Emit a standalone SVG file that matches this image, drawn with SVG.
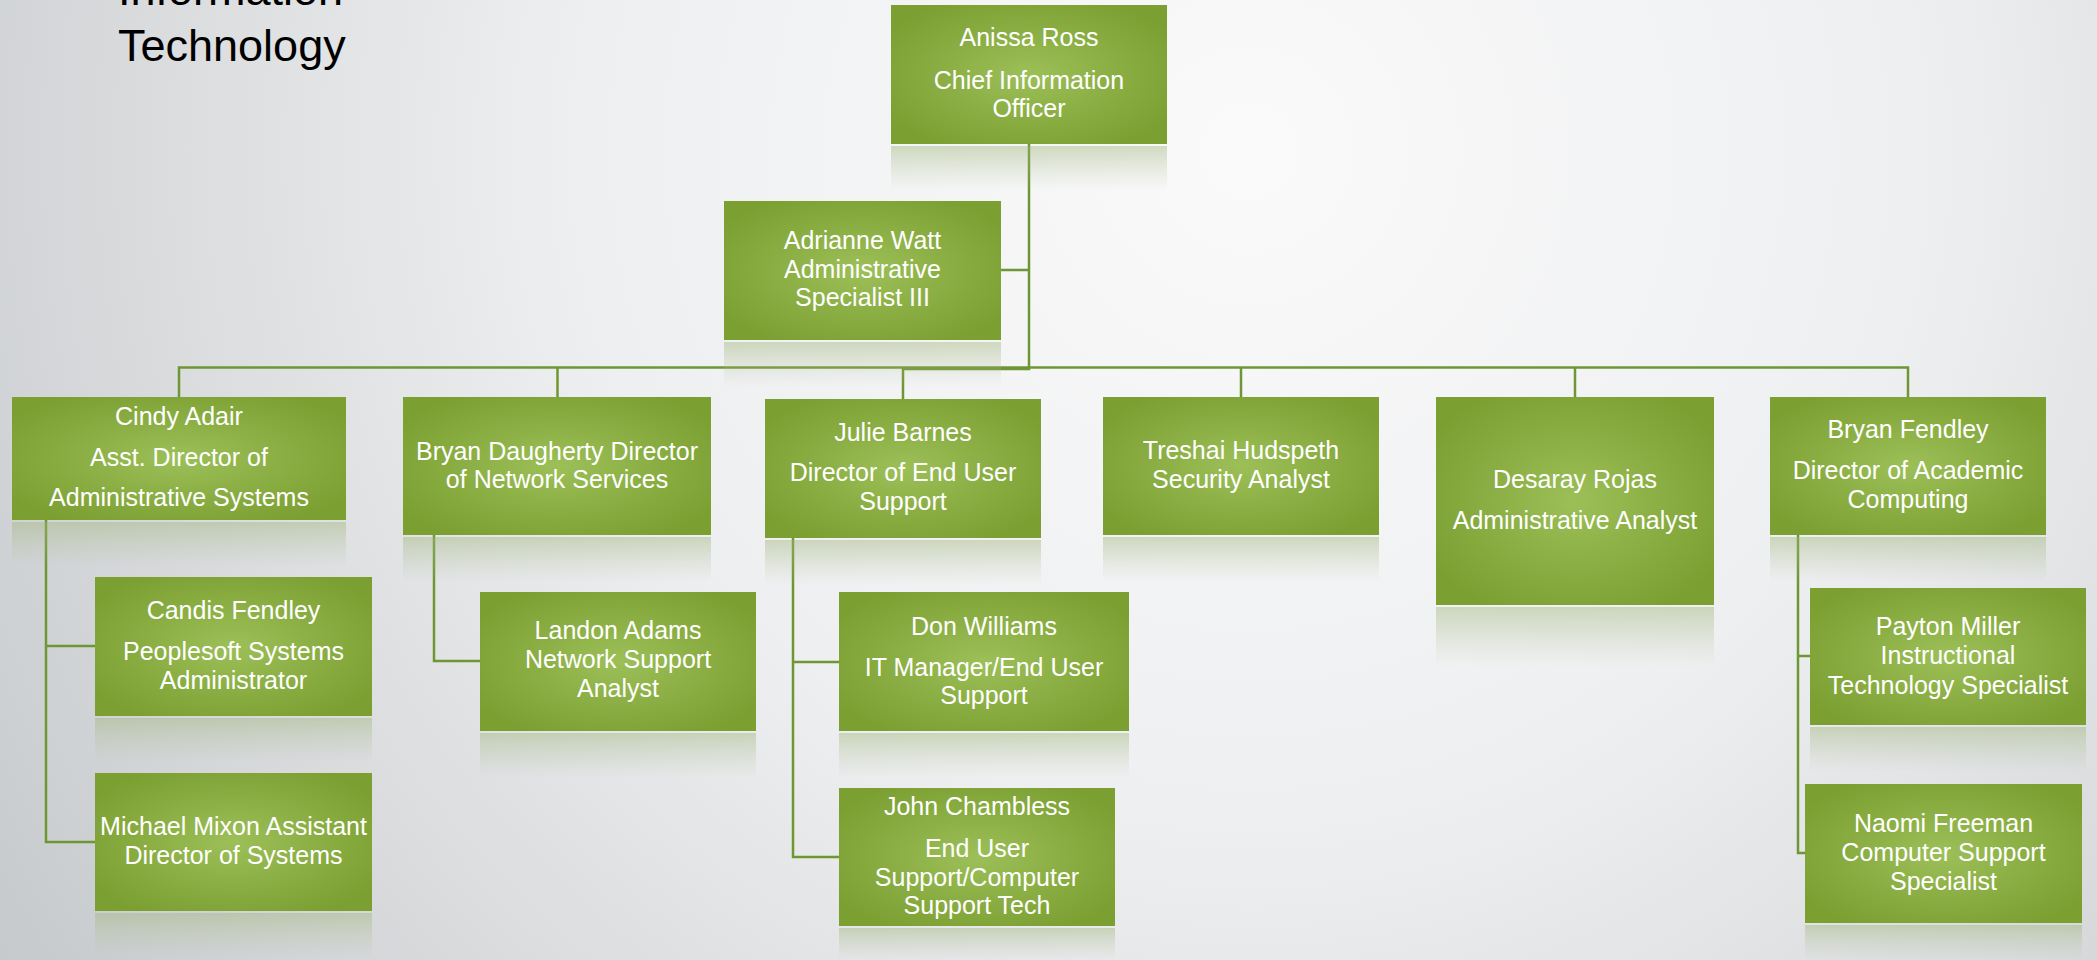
<svg xmlns="http://www.w3.org/2000/svg" width="2097" height="960" viewBox="0 0 2097 960">
<defs>
<radialGradient id="bg" gradientUnits="userSpaceOnUse" cx="1250" cy="150" r="1500">
<stop offset="0" stop-color="#fafafb"/>
<stop offset="0.45" stop-color="#eeeff0"/>
<stop offset="1" stop-color="#c6c9cc"/>
</radialGradient>
<radialGradient id="box" cx="0.5" cy="0.5" r="0.6">
<stop offset="0" stop-color="#9cbf58"/>
<stop offset="1" stop-color="#7b9f31"/>
</radialGradient>
<linearGradient id="refl" x1="0" y1="0" x2="0" y2="1">
<stop offset="0" stop-color="#9fb57a" stop-opacity="0.45"/>
<stop offset="1" stop-color="#b5c19e" stop-opacity="0"/>
</linearGradient>
<style>
.b{fill:url(#box)}
.r{fill:url(#refl)}
.t{font-family:"Liberation Sans",Arial,sans-serif;font-size:25px;fill:#ffffff;text-anchor:middle}
.c{fill:none;stroke:#6f9634;stroke-width:2.5}
.title{font-family:"Liberation Sans",Arial,sans-serif;font-size:45px;fill:#000000}
</style>
</defs>
<rect x="0" y="0" width="2097" height="960" fill="url(#bg)"/>
<g id="title">
<text class="title" x="118" y="5">Information</text>
<text class="title" x="118" y="61">Technology</text>
</g>
<g id="connectors">
<path class="c" d="M1029 144 V369 H903 V399"/>
<path class="c" d="M1001 270 H1029"/>
<path class="c" d="M179 397 V367.5 H1908 V397"/>
<path class="c" d="M557.5 367.5 V397"/>
<path class="c" d="M1241 367.5 V397"/>
<path class="c" d="M1575 367.5 V397"/>
<path class="c" d="M46 520 V842 H95 M46 646 H95"/>
<path class="c" d="M434 535 V661 H480"/>
<path class="c" d="M793 538 V857 H839 M793 662 H839"/>
<path class="c" d="M1798 535 V853 H1805 M1798 656 H1810"/>
</g>
<g id="n-anissa">
<rect class="r" x="891" y="146" width="276" height="45"/>
<rect class="b" x="891" y="5" width="276" height="139"/>
<text class="t"><tspan x="1029" y="46">Anissa Ross</tspan><tspan x="1029" y="89">Chief Information</tspan><tspan x="1029" y="117">Officer</tspan></text>
</g>
<g id="n-adrianne">
<rect class="r" x="724" y="342" width="277" height="45"/>
<rect class="b" x="724" y="201" width="277" height="139"/>
<text class="t"><tspan x="862.5" y="249">Adrianne Watt</tspan><tspan x="862.5" y="278">Administrative</tspan><tspan x="862.5" y="306">Specialist III</tspan></text>
</g>
<g id="n-cindy">
<rect class="r" x="12" y="522" width="334" height="45"/>
<rect class="b" x="12" y="397" width="334" height="123"/>
<text class="t"><tspan x="179" y="425">Cindy Adair</tspan><tspan x="179" y="466">Asst. Director of</tspan><tspan x="179" y="506">Administrative Systems</tspan></text>
</g>
<g id="n-bryan-d">
<rect class="r" x="403" y="537" width="308" height="45"/>
<rect class="b" x="403" y="397" width="308" height="138"/>
<text class="t"><tspan x="557" y="460">Bryan Daugherty Director</tspan><tspan x="557" y="488">of Network Services</tspan></text>
</g>
<g id="n-julie">
<rect class="r" x="765" y="540" width="276" height="45"/>
<rect class="b" x="765" y="399" width="276" height="139"/>
<text class="t"><tspan x="903" y="441">Julie Barnes</tspan><tspan x="903" y="481">Director of End User</tspan><tspan x="903" y="510">Support</tspan></text>
</g>
<g id="n-treshai">
<rect class="r" x="1103" y="537" width="276" height="45"/>
<rect class="b" x="1103" y="397" width="276" height="138"/>
<text class="t"><tspan x="1241" y="459">Treshai Hudspeth</tspan><tspan x="1241" y="488">Security Analyst</tspan></text>
</g>
<g id="n-desaray">
<rect class="r" x="1436" y="607" width="278" height="60"/>
<rect class="b" x="1436" y="397" width="278" height="208"/>
<text class="t"><tspan x="1575" y="488">Desaray Rojas</tspan><tspan x="1575" y="529">Administrative Analyst</tspan></text>
</g>
<g id="n-bryan-f">
<rect class="r" x="1770" y="537" width="276" height="45"/>
<rect class="b" x="1770" y="397" width="276" height="138"/>
<text class="t"><tspan x="1908" y="438">Bryan Fendley</tspan><tspan x="1908" y="479">Director of Academic</tspan><tspan x="1908" y="508">Computing</tspan></text>
</g>
<g id="n-candis">
<rect class="r" x="95" y="718" width="277" height="45"/>
<rect class="b" x="95" y="577" width="277" height="139"/>
<text class="t"><tspan x="233.5" y="619">Candis Fendley</tspan><tspan x="233.5" y="660">Peoplesoft Systems</tspan><tspan x="233.5" y="689">Administrator</tspan></text>
</g>
<g id="n-michael">
<rect class="r" x="95" y="913" width="277" height="45"/>
<rect class="b" x="95" y="773" width="277" height="138"/>
<text class="t"><tspan x="233.5" y="835">Michael Mixon Assistant</tspan><tspan x="233.5" y="864">Director of Systems</tspan></text>
</g>
<g id="n-landon">
<rect class="r" x="480" y="733" width="276" height="45"/>
<rect class="b" x="480" y="592" width="276" height="139"/>
<text class="t"><tspan x="618" y="639">Landon Adams</tspan><tspan x="618" y="668">Network Support</tspan><tspan x="618" y="697">Analyst</tspan></text>
</g>
<g id="n-don">
<rect class="r" x="839" y="733" width="290" height="45"/>
<rect class="b" x="839" y="592" width="290" height="139"/>
<text class="t"><tspan x="984" y="635">Don Williams</tspan><tspan x="984" y="676">IT Manager/End User</tspan><tspan x="984" y="704">Support</tspan></text>
</g>
<g id="n-john">
<rect class="r" x="839" y="928" width="276" height="32"/>
<rect class="b" x="839" y="788" width="276" height="138"/>
<text class="t"><tspan x="977" y="815">John Chambless</tspan><tspan x="977" y="857">End User</tspan><tspan x="977" y="886">Support/Computer</tspan><tspan x="977" y="914">Support Tech</tspan></text>
</g>
<g id="n-payton">
<rect class="r" x="1810" y="727" width="276" height="45"/>
<rect class="b" x="1810" y="588" width="276" height="137"/>
<text class="t"><tspan x="1948" y="635">Payton Miller</tspan><tspan x="1948" y="664">Instructional</tspan><tspan x="1948" y="694">Technology Specialist</tspan></text>
</g>
<g id="n-naomi">
<rect class="r" x="1805" y="925" width="277" height="35"/>
<rect class="b" x="1805" y="784" width="277" height="139"/>
<text class="t"><tspan x="1943.5" y="832">Naomi Freeman</tspan><tspan x="1943.5" y="861">Computer Support</tspan><tspan x="1943.5" y="890">Specialist</tspan></text>
</g>
</svg>
